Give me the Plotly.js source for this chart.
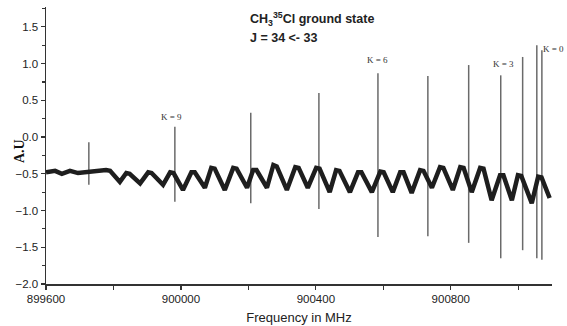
<!DOCTYPE html>
<html>
<head>
<meta charset="utf-8">
<script src="https://cdn.plot.ly/plotly-3.0.1.min.js"></script>
<style>html,body{margin:0;padding:0;background:#fff;}#chart{width:567px;height:326px;}</style>
</head>
<body>
<div id="chart"></div>
<script>
// Baseline (frequency in MHz, intensity in A.U.):
// flat, noisy start, then sharp dips and broad rounded tops
const baseFreq = [899600, 899627, 899647, 899671, 899695, 899716, 899745, 899760,
  899778, 899790, 899819, 899838, 899848, 899879, 899903, 899913, 899947, 899968, 899978,
  900006, 900031, 900041, 900071, 900090, 900100, 900130, 900155, 900165, 900196,
  900214, 900224, 900255, 900274, 900284, 900314, 900339, 900349, 900376, 900401, 900411,
  900441, 900460, 900470, 900501, 900525, 900535, 900566, 900591, 900601, 900628,
  900650, 900660, 900684, 900709, 900719, 900744, 900768, 900778, 900806, 900828, 900838,
  900862, 900887, 900897, 900921, 900946, 900956, 900981, 900999, 901009, 901040,
  901059, 901069, 901093];
const baseVal = [-0.48, -0.46, -0.50, -0.46, -0.49, -0.48, -0.48, -0.46,
  -0.45, -0.46, -0.61, -0.49, -0.50, -0.63, -0.48, -0.49, -0.65, -0.48, -0.49,
  -0.72, -0.48, -0.48, -0.69, -0.42, -0.43, -0.72, -0.42, -0.43, -0.69,
  -0.45, -0.45, -0.69, -0.38, -0.40, -0.72, -0.41, -0.42, -0.69, -0.42, -0.43,
  -0.75, -0.45, -0.46, -0.75, -0.48, -0.48, -0.75, -0.47, -0.48, -0.75,
  -0.48, -0.48, -0.76, -0.45, -0.46, -0.69, -0.41, -0.42, -0.72, -0.41, -0.42,
  -0.75, -0.42, -0.43, -0.86, -0.52, -0.52, -0.86, -0.52, -0.53, -0.90,
  -0.54, -0.55, -0.83];

// Spectral lines K = 10 ... 0
const lineK = [10, 9, 8, 7, 6, 5, 4, 3, 2, 1, 0];
const lineFreq = [899727, 899982, 900207, 900409, 900584, 900732, 900853, 900948, 901013, 901055, 901070];
const linePeak = [-0.07, 0.14, 0.33, 0.60, 0.87, 0.83, 0.98, 0.84, 1.09, 1.25, 1.18];
const lineTrough = [-0.65, -0.88, -0.90, -0.98, -1.36, -1.35, -1.44, -1.65, -1.54, -1.65, -1.67];

// Labelled K values
const labelK = [9, 6, 3, 0];
const labelText = ['K = 9', 'K = 6', 'K = 3', 'K = 0'];

const xTicks = [899600, 900000, 900400, 900800];

const lx = [], ly = [];
for (let i = 0; i < lineFreq.length; i++) {
  lx.push(lineFreq[i], lineFreq[i], null);
  ly.push(linePeak[i], lineTrough[i], null);
}

const traces = [
  {x: lx, y: ly, type: 'scatter', mode: 'lines', line: {color: '#6a6a6a', width: 1.5}, hoverinfo: 'skip'},
  {x: baseFreq, y: baseVal, type: 'scatter', mode: 'lines',
   line: {color: '#1e1e1e', width: 4.5}, hoverinfo: 'skip'}
];

// label placement relative to the line tip: [pixel shift in x, offset in A.U.]
const labelOffsets = {9: [-3, 0.13], 6: [0, 0.18], 3: [3, 0.15], 0: [12, 0.02]};
const annotations = [];
labelK.forEach((k, j) => {
  const i = lineK.indexOf(k);
  const off = labelOffsets[k];
  annotations.push({
    x: lineFreq[i], y: linePeak[i] + off[1], xref: 'x', yref: 'y',
    xshift: off[0], text: labelText[j], showarrow: false,
    font: {family: 'Liberation Serif', size: 9, color: '#333'}
  });
});
annotations.push(
  {xref: 'paper', yref: 'paper', x: (248 - 46) / 506, y: (284 - 19) / 277, xanchor: 'left', yanchor: 'middle',
   text: 'CH<sub>3</sub><sup>35</sup>Cl ground state', showarrow: false,
   font: {family: 'Liberation Sans', size: 12.5, color: '#222', weight: 'bold'}},
  {xref: 'paper', yref: 'paper', x: (248 - 46) / 506, y: (284 - 38) / 277, xanchor: 'left', yanchor: 'middle',
   text: 'J = 34 <- 33', showarrow: false,
   font: {family: 'Liberation Sans', size: 12.5, color: '#222', weight: 'bold'}},
  {xref: 'paper', yref: 'paper', x: (19 - 46) / 506, y: (284 - 151) / 277, xanchor: 'center', yanchor: 'middle',
   text: 'A.U', textangle: -90, showarrow: false,
   font: {family: 'Liberation Serif', size: 14, color: '#111', weight: 'bold'}}
);

const layout = {
  width: 567, height: 326,
  margin: {l: 46, r: 15, t: 7, b: 42},
  paper_bgcolor: '#fff', plot_bgcolor: '#fff',
  showlegend: false,
  font: {family: 'Liberation Sans, Arial, sans-serif', color: '#222'},
  xaxis: {
    range: [899600, 901100], tickvals: xTicks, tickformat: 'd',
    showgrid: false, zeroline: false, showline: true, linecolor: '#333', linewidth: 1.5,
    ticks: 'outside', ticklen: 4, tickcolor: '#333', tickwidth: 1.2,
    minor: {dtick: 200, tick0: 899600, ticks: 'outside', ticklen: 4, tickcolor: '#333', tickwidth: 1.2, showgrid: false},
    tickfont: {size: 11.5, color: '#222'},
    title: {text: 'Frequency in MHz', font: {size: 13, color: '#222'}, standoff: 8}
  },
  yaxis: {
    range: [-2, 1.77], dtick: 0.5, tick0: -2, tickformat: '.1f',
    showgrid: false, zeroline: false, showline: true, linecolor: '#333', linewidth: 1.5,
    ticks: 'outside', ticklen: 4, tickcolor: '#333', tickwidth: 1.2,
    minor: {dtick: 0.25, ticks: 'outside', ticklen: 3, tickcolor: '#333', showgrid: false},
    tickfont: {size: 11.5, color: '#222'}
  },
  annotations: annotations
};

Plotly.newPlot('chart', traces, layout, {staticPlot: true, displayModeBar: false});
</script>
</body>
</html>
